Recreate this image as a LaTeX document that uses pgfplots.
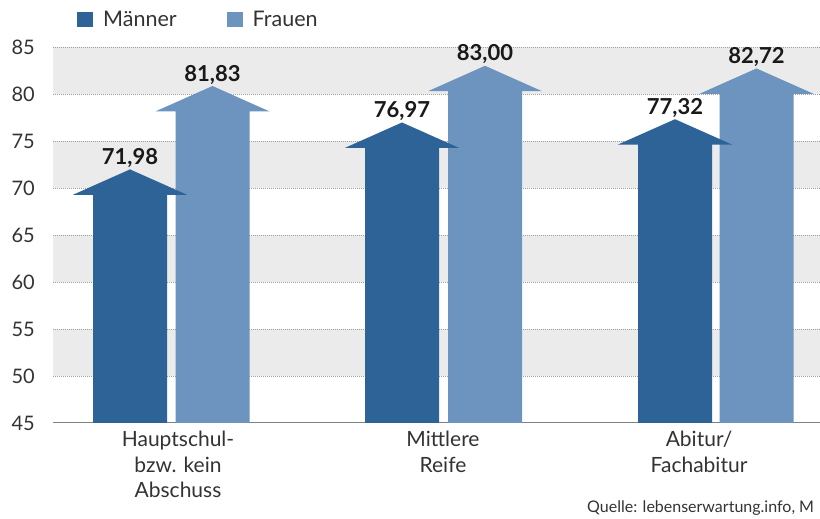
\documentclass[border=0pt]{standalone}
\usepackage{fontspec}
\setmainfont{Lato}
\usepackage{pgfplots}
\usepackage{pgfplotstable}
\pgfplotsset{compat=1.18}
\definecolor{men}{HTML}{2E6398}
\definecolor{women}{HTML}{6C94BE}
\definecolor{band}{HTML}{EBEBEB}
\definecolor{gridc}{HTML}{A0A0A0}
\definecolor{txt}{HTML}{333333}
\pgfplotstableread{
x y lab
130 71.98 71,98
212.5 80.85 81,83
402 76.97 76,97
485 83.00 83,00
675 77.32 77,32
756.5 82.72 82,72
}\labels
\begin{document}
\begin{tikzpicture}
\path[use as bounding box] (0,0) rectangle (820pt,519pt);
\begin{axis}[
  at={(53pt,96pt)}, anchor=south west,
  scale only axis, width=767pt, height=376pt,
  xmin=53, xmax=820, ymin=45, ymax=85,
  clip=false,
  axis line style={draw=none},
  major tick length=0pt,
  ytick={45,50,...,85},
  xtick={178,443,699},
  xticklabels={{Hauptschul-\\bzw. kein\\Abschuss},{Mittlere\\Reife},{Abitur/\\Fachabitur}},
  xticklabel style={align=center, font=\fontsize{21}{25.5}\selectfont, text=txt, anchor=north, inner sep=0pt, yshift=-8pt},
  yticklabel style={font=\fontsize{20}{24}\selectfont, text=txt, anchor=east, inner sep=0pt, xshift=-18pt},
  /pgf/number format/assume math mode=true,
  legend style={at={(0,1)}, anchor=west, xshift=24pt, yshift=27.5pt, draw=none, fill=none, inner sep=0pt,
    font=\fontsize{21.5}{24}\selectfont, text=txt, legend columns=2,
    /tikz/every odd column/.append style={column sep=8pt},
    /tikz/every even column/.append style={column sep=48pt}},
  legend image code/.code={\fill[#1] (0pt,-7.5pt) rectangle (16pt,7.5pt);},
]
% bands
\addplot[forget plot, fill=band, draw=none] coordinates {(53,80)(820,80)(820,85)(53,85)} -- cycle;
\addplot[forget plot, fill=band, draw=none] coordinates {(53,70)(820,70)(820,75)(53,75)} -- cycle;
\addplot[forget plot, fill=band, draw=none] coordinates {(53,60)(820,60)(820,65)(53,65)} -- cycle;
\addplot[forget plot, fill=band, draw=none] coordinates {(53,50)(820,50)(820,55)(53,55)} -- cycle;
% grid lines
\pgfplotsinvokeforeach{50,55,60,65,70,75,80,85}{
\addplot[forget plot, gridc, line width=0.8pt, dash pattern=on 0.8pt off 1.2pt] coordinates {(53,#1)(820,#1)};
}
\addplot[forget plot, gridc!80!black, line width=1pt] coordinates {(53,45)(820,45)};
% Frauen arrows
\addplot[forget plot, fill=women, draw=none] coordinates {(175.5,45)(175.5,78.15)(155.5,78.15)(212.5,80.85)(269.5,78.15)(249.5,78.15)(249.5,45)} -- cycle;
\addplot[forget plot, fill=women, draw=none] coordinates {(448,45)(448,80.30)(428,80.30)(485,83.00)(542,80.30)(522,80.30)(522,45)} -- cycle;
\addplot[forget plot, fill=women, draw=none] coordinates {(719.5,45)(719.5,80.02)(699.5,80.02)(756.5,82.72)(813.5,80.02)(793.5,80.02)(793.5,45)} -- cycle;
% Maenner arrows
\addplot[forget plot, fill=men, draw=none] coordinates {(93,45)(93,69.28)(73,69.28)(130,71.98)(187,69.28)(167,69.28)(167,45)} -- cycle;
\addplot[forget plot, fill=men, draw=none] coordinates {(365,45)(365,74.27)(345,74.27)(402,76.97)(459,74.27)(439,74.27)(439,45)} -- cycle;
\addplot[forget plot, fill=men, draw=none] coordinates {(638,45)(638,74.62)(618,74.62)(675,77.32)(732,74.62)(712,74.62)(712,45)} -- cycle;
% value labels
\addplot[forget plot, draw=none, mark=none, nodes near coords, point meta=explicit symbolic,
  nodes near coords style={font=\bfseries\fontsize{22}{26}\selectfont, text=black!90, anchor=base, inner sep=0pt, yshift=5pt}]
  table[x=x, y=y, meta=lab]{\labels};
\addlegendimage{fill=men, draw=none}
\addlegendentry{Männer}
\addlegendimage{fill=women, draw=none}
\addlegendentry{Frauen}
\end{axis}
\node[anchor=base west, inner sep=0pt, font=\fontsize{16}{18}\selectfont, text=txt] at (587pt,6pt) {Quelle: lebenserwartung.info, M};
\end{tikzpicture}
\end{document}
